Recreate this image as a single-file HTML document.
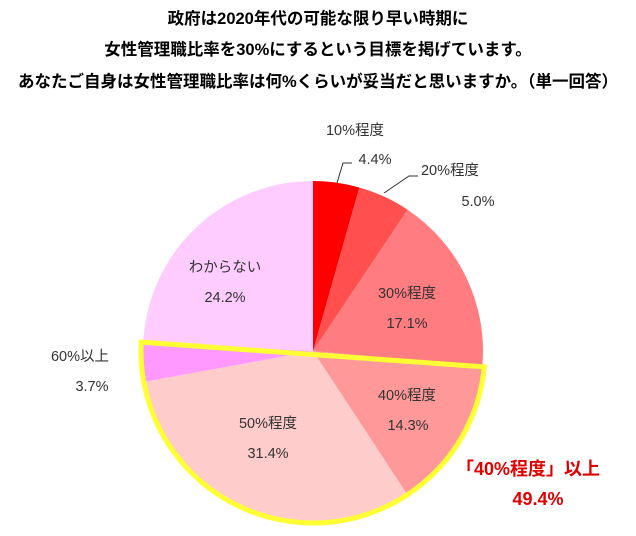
<!DOCTYPE html>
<html><head><meta charset="utf-8"><style>
body{margin:0;background:#fff;}
svg text{font-family:"Liberation Sans","Noto Sans CJK JP",sans-serif;}
</style></head><body>
<svg width="636" height="531" viewBox="0 0 636 531">
<g font-weight="bold" font-size="16.5" fill="#000" text-anchor="middle">
<text x="318" y="24">政府は2020年代の可能な限り早い時期に</text>
<text x="318" y="55">女性管理職比率を30%にするという目標を掲げています。</text>
<text x="318" y="87">あなたご自身は女性管理職比率は何%くらいが妥当だと思いますか。（単一回答）</text>
</g>
<g id="slices"></g>
<g id="labels" font-size="14.5" fill="#333" text-anchor="middle"></g>
<polyline points="337,183 343,163 352,163" fill="none" stroke="#333" stroke-width="1"/>
<polyline points="384,193 409,176 418,176" fill="none" stroke="#333" stroke-width="1"/>
<g font-weight="bold" fill="#E00000" font-size="18" text-anchor="middle">
<text x="528" y="475">「40%程度」以上</text>
<text x="538" y="505">49.4%</text>
</g>
</svg>
<script>
const categories=["10%程度","20%程度","30%程度","40%程度","50%程度","60%以上","わからない"];
const values=[4.4,5.0,17.1,14.3,31.4,3.7,24.2];
const colors=["#FF0000","#FF4F4F","#FF7C80","#FF9999","#FFCCCC","#FF99FF","#FFCCFF"];
const labelPos=[[355,135,375,164],[450,175,478,206],[407,298,407,328],[407,400,408,430],[268,428,268,458],[80,361,92,391],[225,272,225,302]];
const cx=313,cy=351,r=170;
const NS="http://www.w3.org/2000/svg";
const total=values.reduce((a,b)=>a+b,0);
function pt(a,rr){return [cx+rr*Math.sin(a),cy-rr*Math.cos(a)];}
const g=document.getElementById('slices');
let acc=0;const angles=[];
values.forEach((v,i)=>{
 const a0=acc/total*2*Math.PI;acc+=v;const a1=acc/total*2*Math.PI;angles.push([a0,a1]);
 const p0=pt(a0,r),p1=pt(a1,r);
 const p=document.createElementNS(NS,'path');
 p.setAttribute('d',`M${cx},${cy}L${p0[0]},${p0[1]}A${r},${r} 0 ${a1-a0>Math.PI?1:0} 1 ${p1[0]},${p1[1]}Z`);
 p.setAttribute('fill',colors[i]);
 
 
 g.appendChild(p);
});
const h0=angles[3][0],h1=angles[5][1],rr=r+2;
const q0=pt(h0,rr),q1=pt(h1,rr);
const hp=document.createElementNS(NS,'path');
hp.setAttribute('d',`M${q0[0]},${q0[1]}A${rr},${rr} 0 ${h1-h0>Math.PI?1:0} 1 ${q1[0]},${q1[1]}Z`);
hp.setAttribute('fill','none');hp.setAttribute('stroke','#FFFF33');hp.setAttribute('stroke-width','5');


g.appendChild(hp);
const lg=document.getElementById('labels');
categories.forEach((c,i)=>{
 const [x1,y1,x2,y2]=labelPos[i];
 const t=document.createElementNS(NS,'text');t.setAttribute('x',x1);t.setAttribute('y',y1);t.textContent=c;
 
 
 lg.appendChild(t);
 const t2=document.createElementNS(NS,'text');t2.setAttribute('x',x2);t2.setAttribute('y',y2);t2.textContent=values[i].toFixed(1)+'%';
 
 
 lg.appendChild(t2);
});
</script>
</body></html>
